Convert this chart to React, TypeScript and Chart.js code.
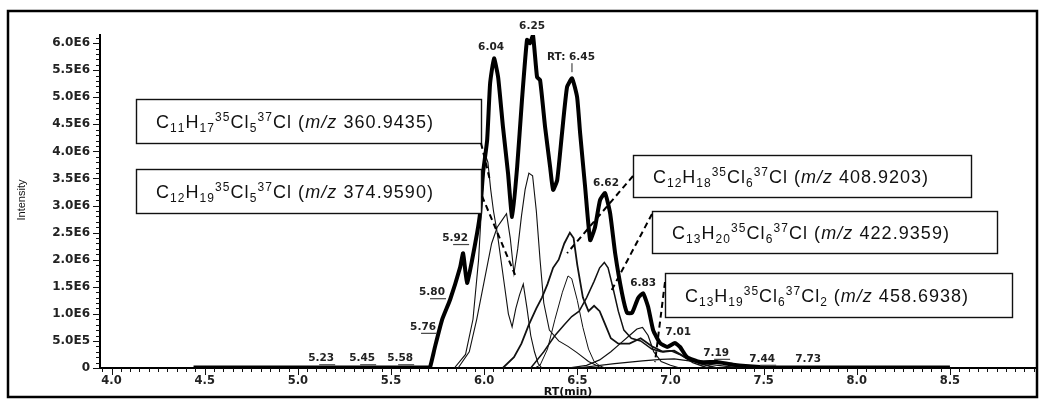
import React, { useEffect, useRef } from 'react';
import { Chart, registerables } from 'chart.js';

Chart.register(...registerables);

// ---------- data (intensity in units of 1E6) ----------
const ticRT = [4.44, 5.70, 5.71, 5.736, 5.774, 5.817, 5.871, 5.887, 5.908, 5.935, 5.962, 5.978, 5.994, 6.016, 6.032, 6.053, 6.075, 6.101, 6.128, 6.150, 6.177, 6.203, 6.230, 6.246, 6.262, 6.284, 6.300, 6.327, 6.354, 6.370, 6.392, 6.418, 6.445, 6.472, 6.499, 6.515, 6.542, 6.569, 6.595, 6.622, 6.649, 6.676, 6.703, 6.740, 6.767, 6.794, 6.826, 6.853, 6.880, 6.907, 6.944, 6.982, 7.024, 7.051, 7.089, 7.159, 7.250, 7.336, 7.481, 7.60, 8.50];
const ticInt = [0.01, 0.01, 0.02, 0.39, 0.89, 1.26, 1.86, 2.12, 1.57, 1.99, 2.49, 2.86, 3.60, 4.21, 5.26, 5.72, 5.37, 4.45, 3.60, 2.79, 3.71, 4.95, 6.06, 6.00, 6.15, 5.37, 5.32, 4.45, 3.71, 3.29, 3.47, 4.34, 5.19, 5.35, 5.00, 4.34, 3.34, 2.36, 2.60, 3.10, 3.23, 2.86, 2.12, 1.38, 1.02, 1.02, 1.29, 1.38, 1.13, 0.70, 0.46, 0.39, 0.46, 0.39, 0.20, 0.11, 0.11, 0.06, 0.02, 0.01, 0.01];

const mz360RT = [5.84, 5.90, 5.94, 5.97, 5.99, 6.005, 6.02, 6.035, 6.05, 6.07, 6.09, 6.11, 6.13, 6.15, 6.17, 6.19, 6.21, 6.23, 6.25, 6.27, 6.29, 6.31];
const mz360Int = [0, 0.25, 0.9, 2.0, 3.2, 3.95, 3.8, 3.3, 2.9, 2.5, 2.0, 1.5, 1.0, 0.76, 1.1, 1.35, 1.55, 1.1, 0.6, 0.3, 0.08, 0];

const mz375RT = [5.86, 5.92, 5.96, 6.00, 6.04, 6.07, 6.10, 6.12, 6.14, 6.16, 6.18, 6.20, 6.22, 6.24, 6.26, 6.28, 6.30, 6.32, 6.35, 6.40, 6.45, 6.50, 6.56, 6.62];
const mz375Int = [0, 0.3, 0.9, 1.6, 2.3, 2.6, 2.75, 2.85, 2.4, 1.75, 2.2, 2.8, 3.3, 3.6, 3.55, 2.9, 2.0, 1.2, 0.7, 0.5, 0.4, 0.28, 0.12, 0.02];

const mz409RT = [6.10, 6.16, 6.20, 6.24, 6.28, 6.31, 6.34, 6.37, 6.40, 6.43, 6.46, 6.48, 6.50, 6.53, 6.56, 6.59, 6.62, 6.65, 6.68, 6.72, 6.78, 6.84, 6.90, 6.96, 7.02, 7.08, 7.16, 7.25];
const mz409Int = [0, 0.2, 0.45, 0.8, 1.1, 1.3, 1.55, 1.85, 2.0, 2.3, 2.5, 2.4, 1.9, 1.3, 1.05, 1.15, 1.05, 0.8, 0.55, 0.45, 0.45, 0.55, 0.4, 0.3, 0.32, 0.2, 0.08, 0];

const mz423RT = [6.25, 6.32, 6.38, 6.43, 6.47, 6.51, 6.55, 6.59, 6.62, 6.645, 6.665, 6.69, 6.72, 6.75, 6.79, 6.84, 6.90, 6.95, 7.00, 7.05, 7.12, 7.20];
const mz423Int = [0, 0.3, 0.6, 0.8, 0.95, 1.05, 1.3, 1.6, 1.85, 1.95, 1.85, 1.5, 1.05, 0.7, 0.55, 0.5, 0.35, 0.3, 0.32, 0.25, 0.1, 0];

const mz459RT = [6.45, 6.55, 6.62, 6.68, 6.73, 6.78, 6.82, 6.85, 6.88, 6.91, 6.95, 7.0, 7.05];
const mz459Int = [0, 0.05, 0.15, 0.3, 0.45, 0.6, 0.72, 0.75, 0.6, 0.3, 0.12, 0.05, 0];

const minorART = [6.27, 6.30, 6.34, 6.38, 6.42, 6.45, 6.47, 6.50, 6.53, 6.56, 6.59, 6.62, 6.65];
const minorAInt = [0.0, 0.05, 0.35, 0.9, 1.4, 1.7, 1.65, 1.25, 0.75, 0.35, 0.12, 0.04, 0];

const minorBRT = [6.5, 6.7, 6.85, 6.95, 7.02, 7.1, 7.2, 7.3, 7.4];
const minorBInt = [0, 0.08, 0.13, 0.16, 0.17, 0.13, 0.07, 0.03, 0];

// axis ticks
const xTickValues = [4.0, 4.5, 5.0, 5.5, 6.0, 6.5, 7.0, 7.5, 8.0, 8.5];
const yTickValues = [0, 0.5, 1.0, 1.5, 2.0, 2.5, 3.0, 3.5, 4.0, 4.5, 5.0, 5.5, 6.0];
const yTickLabels = ['0', '5.0E5', '1.0E6', '1.5E6', '2.0E6', '2.5E6', '3.0E6', '3.5E6', '4.0E6', '4.5E6', '5.0E6', '5.5E6', '6.0E6'];

// peak annotations (label text, RT, intensity position of label)
const peakText = ['6.25', '6.04', 'RT: 6.45', '6.62', '6.83', '7.01', '7.19', '7.44', '7.73', '5.92', '5.80', '5.76', '5.58', '5.45', '5.23'];
const peakLabelRT = [6.257, 6.037, 6.466, 6.654, 6.853, 7.041, 7.245, 7.492, 7.739, 5.844, 5.720, 5.672, 5.549, 5.345, 5.125];
const peakLabelInt = [6.31, 5.93, 5.74, 3.42, 1.57, 0.66, 0.28, 0.17, 0.17, 2.40, 1.40, 0.76, 0.18, 0.18, 0.18];
const peakUnderline = [false, false, false, false, false, false, true, true, false, true, true, true, true, true, true];

// callouts
const calloutText = [
  'C_{11}H_{17}^{35}Cl_{5}^{37}Cl (*m/z* 360.9435)',
  'C_{12}H_{19}^{35}Cl_{5}^{37}Cl (*m/z* 374.9590)',
  'C_{12}H_{18}^{35}Cl_{6}^{37}Cl (*m/z* 408.9203)',
  'C_{13}H_{20}^{35}Cl_{6}^{37}Cl (*m/z* 422.9359)',
  'C_{13}H_{19}^{35}Cl_{6}^{37}Cl_{2} (*m/z* 458.6938)',
];
const calloutTargetRT = [6.031, 6.166, 6.445, 6.676, 6.917];
const calloutTargetInt = [3.47, 1.72, 2.12, 1.385, 0.11];

// layout of callout boxes (pixels): [left, top, right, bottom], text left, text width, leader start
const boxRects = [
  [136, 99, 481, 143],
  [136, 169, 481, 213],
  [633, 155, 971, 197],
  [652, 211, 997, 253],
  [665, 273, 1012, 317],
];
const boxTextLeft = [156, 156, 653, 672, 685];
const boxTextWidth = [277, 277, 275, 277, 283];
const leaderStart = [[481, 143], [482, 196], [633, 176], [652, 214], [665, 282]];

type Seg = { t: string; k: 'n' | 'sub' | 'sup' | 'it' };
function parseRich(s: string): Seg[] {
  const out: Seg[] = [];
  let i = 0;
  let buf = '';
  const flush = () => { if (buf) { out.push({ t: buf, k: 'n' }); buf = ''; } };
  while (i < s.length) {
    const c = s[i];
    if ((c === '_' || c === '^') && s[i + 1] === '{') {
      flush();
      const end = s.indexOf('}', i);
      out.push({ t: s.slice(i + 2, end), k: c === '_' ? 'sub' : 'sup' });
      i = end + 1;
    } else if (c === '*') {
      flush();
      const end = s.indexOf('*', i + 1);
      out.push({ t: s.slice(i + 1, end), k: 'it' });
      i = end + 1;
    } else {
      buf += c;
      i++;
    }
  }
  flush();
  return out;
}

const FONT_MAIN = '18px "Liberation Sans", Arial, sans-serif';
const FONT_SMALL = '12px "Liberation Sans", Arial, sans-serif';
const FONT_IT = 'italic 18px "Liberation Sans", Arial, sans-serif';

function segFont(k: Seg['k']) {
  return k === 'sub' || k === 'sup' ? FONT_SMALL : k === 'it' ? FONT_IT : FONT_MAIN;
}

function drawRich(ctx: CanvasRenderingContext2D, text: string, x: number, y: number, targetW: number) {
  const segs = parseRich(text);
  let natural = 0;
  let count = 0;
  for (const sg of segs) {
    ctx.font = segFont(sg.k);
    for (const ch of sg.t) { natural += ctx.measureText(ch).width; count++; }
  }
  const sp = count > 1 ? (targetW - natural) / (count - 1) : 0;
  let cx = x;
  ctx.textAlign = 'left';
  ctx.textBaseline = 'alphabetic';
  for (const sg of segs) {
    ctx.font = segFont(sg.k);
    const dy = sg.k === 'sub' ? 4 : sg.k === 'sup' ? -7 : 0;
    for (const ch of sg.t) {
      ctx.fillText(ch, cx, y + dy);
      cx += ctx.measureText(ch).width + sp;
    }
  }
}

const overlayPlugin = {
  id: 'overlay',
  afterDraw(chart: any) {
    const ctx: CanvasRenderingContext2D = chart.ctx;
    const xs = chart.scales.x;
    const ys = chart.scales.y;
    const area = chart.chartArea;
    ctx.save();

    // tick marks
    ctx.strokeStyle = '#111';
    ctx.lineWidth = 1;
    for (let i = 0; i <= 61; i++) {
      const v = i / 10;
      const p = Math.round(ys.getPixelForValue(v)) + 0.5;
      const major = i % 5 === 0;
      ctx.beginPath();
      ctx.moveTo(area.left - (major ? 7 : 4), p);
      ctx.lineTo(area.left, p);
      ctx.stroke();
    }
    for (let i = 79; i <= 179; i++) {
      const v = i * 0.05;
      if (v < xs.min || v > xs.max) continue;
      const p = Math.round(xs.getPixelForValue(v)) + 0.5;
      const major = i % 10 === 0;
      ctx.beginPath();
      ctx.moveTo(p, area.bottom);
      ctx.lineTo(p, area.bottom + (major ? 7 : 4));
      ctx.stroke();
    }

    // axis titles
    ctx.fillStyle = '#111';
    ctx.font = 'bold 11px "DejaVu Sans", sans-serif';
    ctx.textAlign = 'center';
    ctx.textBaseline = 'middle';
    ctx.fillText('RT(min)', (area.left + area.right) / 2, 392);
    ctx.save();
    ctx.translate(22, 200);
    ctx.rotate(-Math.PI / 2);
    ctx.font = '11px "Liberation Sans Narrow", "Liberation Sans", sans-serif';
    ctx.fillText('Intensity', 0, 0);
    ctx.restore();

    // peak labels
    ctx.font = 'bold 10.5px "DejaVu Sans", sans-serif';
    ctx.fillStyle = '#222';
    peakText.forEach((t, i) => {
      const px = xs.getPixelForValue(peakLabelRT[i]);
      const py = ys.getPixelForValue(peakLabelInt[i]);
      ctx.textAlign = 'center';
      ctx.textBaseline = 'middle';
      ctx.fillText(t, px, py);
      if (peakUnderline[i]) {
        ctx.strokeStyle = '#444';
        ctx.lineWidth = 1.2;
        ctx.beginPath();
        ctx.moveTo(px - 2, py + 6.5);
        ctx.lineTo(px + 14, py + 6.5);
        ctx.stroke();
      }
      if (t.startsWith('RT')) {
        ctx.strokeStyle = '#222';
        ctx.lineWidth = 1;
        ctx.beginPath();
        ctx.moveTo(px + 1, py + 6);
        ctx.lineTo(px + 1, py + 15);
        ctx.stroke();
      }
    });

    // callout boxes and leaders
    calloutText.forEach((t, i) => {
      const [l, tp, r, b] = boxRects[i];
      ctx.fillStyle = '#fff';
      ctx.fillRect(l, tp, r - l, b - tp);
      ctx.strokeStyle = '#111';
      ctx.lineWidth = 1.4;
      ctx.setLineDash([]);
      ctx.strokeRect(l + 0.5, tp + 0.5, r - l, b - tp);
      ctx.fillStyle = '#111';
      drawRich(ctx, t, boxTextLeft[i], (tp + b) / 2 + 6.5, boxTextWidth[i]);
      const ex = xs.getPixelForValue(calloutTargetRT[i]);
      const ey = ys.getPixelForValue(calloutTargetInt[i]);
      ctx.strokeStyle = '#000';
      ctx.lineWidth = 2;
      ctx.setLineDash([6, 4]);
      ctx.beginPath();
      ctx.moveTo(leaderStart[i][0], leaderStart[i][1]);
      ctx.lineTo(ex, ey);
      ctx.stroke();
      ctx.setLineDash([]);
    });

    // outer frame
    ctx.strokeStyle = '#000';
    ctx.lineWidth = 2.5;
    ctx.strokeRect(8, 11, 1029, 386);
    ctx.restore();
  },
};

function pts(xs: number[], ys: number[]) {
  return xs.map((x, i) => ({ x, y: ys[i] }));
}

export default function App() {
  const ref = useRef<HTMLCanvasElement | null>(null);
  useEffect(() => {
    document.body.style.margin = '0';
    const canvas = ref.current;
    if (!canvas) return;
    const thin = (data: any, w = 1.1) => ({
      data,
      borderColor: '#111',
      borderWidth: w,
      pointRadius: 0,
      tension: 0,
      fill: false,
    });
    const chart = new Chart(canvas, {
      type: 'line',
      data: {
        datasets: [
          { ...thin(pts(ticRT, ticInt), 4), borderColor: '#000', tension: 0.15, label: 'total' },
          { ...thin(pts(mz360RT, mz360Int)), label: 'm/z 360.9435' },
          { ...thin(pts(mz375RT, mz375Int)), label: 'm/z 374.9590' },
          { ...thin(pts(mz409RT, mz409Int), 1.8), label: 'm/z 408.9203' },
          { ...thin(pts(mz423RT, mz423Int), 1.5), label: 'm/z 422.9359' },
          { ...thin(pts(mz459RT, mz459Int), 1.2), label: 'm/z 458.6938' },
          { ...thin(pts(minorART, minorAInt), 1.0), label: 'minor A' },
          { ...thin(pts(minorBRT, minorBInt), 1.2), label: 'minor B' },
        ],
      },
      options: {
        responsive: false,
        animation: false,
        devicePixelRatio: 1,
        layout: { padding: { left: 0, top: 35, right: 4, bottom: 0 } },
        plugins: { legend: { display: false }, tooltip: { enabled: false } },
        scales: {
          x: {
            type: 'linear',
            min: 3.938,
            max: 8.962,
            afterFit: (s: any) => { s.height = 32; },
            afterBuildTicks: (s: any) => { s.ticks = xTickValues.map((v) => ({ value: v })); },
            grid: { display: false, drawTicks: false },
            border: { display: true, color: '#000', width: 2 },
            ticks: {
              autoSkip: false,
              maxRotation: 0,
              padding: 6,
              color: '#222',
              font: { family: 'DejaVu Sans', size: 11.5, weight: 'bold' },
              callback: (v: any) => Number(v).toFixed(1),
            },
          },
          y: {
            type: 'linear',
            min: 0,
            max: 6.15,
            afterFit: (s: any) => { s.width = 100; },
            afterBuildTicks: (s: any) => { s.ticks = yTickValues.map((v) => ({ value: v })); },
            grid: { display: false, drawTicks: false },
            border: { display: true, color: '#000', width: 2 },
            ticks: {
              autoSkip: false,
              padding: 10,
              color: '#222',
              font: { family: 'DejaVu Sans', size: 12, weight: 'bold' },
              callback: (v: any) => {
                const idx = yTickValues.findIndex((t) => Math.abs(t - Number(v)) < 1e-6);
                return idx >= 0 ? yTickLabels[idx] : '';
              },
            },
          },
        },
      },
      plugins: [overlayPlugin],
    } as any);
    return () => chart.destroy();
  }, []);
  return <canvas ref={ref} width={1040} height={400} style={{ display: 'block', width: 1040, height: 400 }} />;
}
